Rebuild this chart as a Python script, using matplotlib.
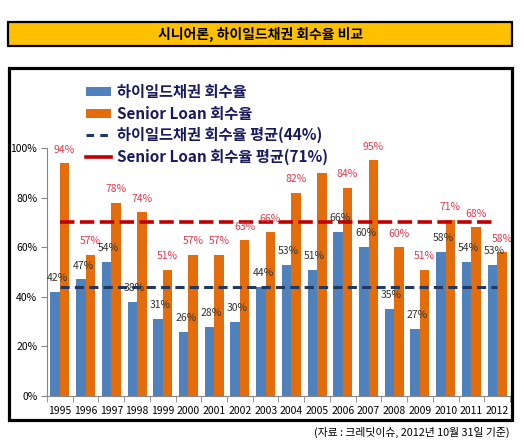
import numpy as np
import matplotlib.pyplot as plt
from matplotlib.patches import Patch, Rectangle
from matplotlib.lines import Line2D

plt.rcParams['font.family'] = ['Noto Sans CJK KR', 'DejaVu Sans']

years = [str(y) for y in range(1995, 2013)]
hy_rate = [42, 47, 54, 38, 31, 26, 28, 30, 44, 53, 51, 66, 60, 35, 27, 58, 54, 53]
sl_rate = [94, 57, 78, 74, 51, 57, 57, 63, 66, 82, 90, 84, 95, 60, 51, 71, 68, 58]
sl_no_label = ['2005']
hy_avg = 44
sl_avg = 70
legend_labels = ['하이일드채권 회수율', 'Senior Loan 회수율',
                 '하이일드채권 회수율 평균(44%)', 'Senior Loan 회수율 평균(71%)']
title = '시니어론, 하이일드채권 회수율 비교'
source = '(자료 : 크레딧이슈, 2012년 10월 31일 기준)'

BLUE = '#4F81BD'
ORANGE = '#E46C0A'
NAVY = '#1F3864'
DRED = '#C00000'
LBL_RED = '#E0394F'
GRAY = '#868686'

W, H = 524, 443
fig = plt.figure(figsize=(W / 100, H / 100), dpi=100)


def fx(px):
    return px / W


def fy(py):
    return 1 - py / H


# title box
fig.patches.append(Rectangle((fx(8), fy(46)), fx(504), 24 / H, transform=fig.transFigure,
                             facecolor='#FFC000', edgecolor='black', lw=1.6))
fig.text(fx(261), fy(34), title, ha='center', va='center', fontsize=10, fontweight='bold')

# chart frame
fig.patches.append(Rectangle((fx(9), fy(420)), fx(503), 352 / H, transform=fig.transFigure,
                             facecolor='none', edgecolor='black', lw=2.3))

ax = fig.add_axes([fx(47), fy(396), fx(463), 248 / H])
x = np.arange(len(years))
w = 0.37
ax.bar(x - w / 2, hy_rate, w, color=BLUE, zorder=2)
ax.bar(x + w / 2, sl_rate, w, color=ORANGE, zorder=2)

# average lines
ax.plot([x[0], x[-1]], [hy_avg, hy_avg], ls=(0, (3.0, 1.7)), color=NAVY, lw=2.2, zorder=3)
ax.plot([x[0], x[-1]], [sl_avg, sl_avg], ls=(0, (4.0, 1.5)), color=DRED, lw=2.6, zorder=3)

for i, (a, b) in enumerate(zip(hy_rate, sl_rate)):
    ax.annotate(f'{a}%', (x[i] - w / 2, a), xytext=(1.5, 10), textcoords='offset points',
                ha='center', va='center', fontsize=7.5, color='#333333', zorder=4)
    if years[i] not in sl_no_label:
        ax.annotate(f'{b}%', (x[i] + w / 2, b), xytext=(0, 9.5), textcoords='offset points',
                    ha='center', va='center', fontsize=7.5, color=LBL_RED, zorder=4)

ax.set_xlim(-0.5, len(years) - 0.5)
ax.set_ylim(0, 100)
ax.set_yticks(range(0, 101, 20))
ax.set_yticklabels([f'{v}%' for v in range(0, 101, 20)], fontsize=7.5)
ax.set_xticks(x)
ax.set_xticklabels(years, fontsize=7.5)
ax.set_xticks(np.arange(-0.5, len(years)), minor=True)
ax.tick_params(axis='x', which='major', length=0, pad=7)
ax.tick_params(axis='x', which='minor', length=4, color=GRAY, direction='out')
ax.tick_params(axis='y', length=4, color=GRAY, direction='out', pad=3)
for s in ['top', 'right']:
    ax.spines[s].set_visible(False)
for s in ['left', 'bottom']:
    ax.spines[s].set_color(GRAY)
ax.patch.set_alpha(0)

handles = [Patch(facecolor=BLUE), Patch(facecolor=ORANGE),
           Line2D([], [], color=NAVY, lw=2.2, ls=(0, (2.5, 2))),
           Line2D([], [], color=DRED, lw=2.6)]
leg = fig.legend(handles, legend_labels, loc='upper left', bbox_to_anchor=(fx(80), fy(78)),
                 frameon=False, handlelength=1.6, handleheight=0.55, handletextpad=0.4,
                 labelspacing=0.36, prop={'size': 11, 'weight': 'bold'}, borderaxespad=0)
for t in leg.get_texts():
    t.set_color('#1A1A5E')

fig.text(fx(510), fy(432), source, ha='right', va='center', fontsize=7.8)

fig.savefig('out.png', dpi=100)
